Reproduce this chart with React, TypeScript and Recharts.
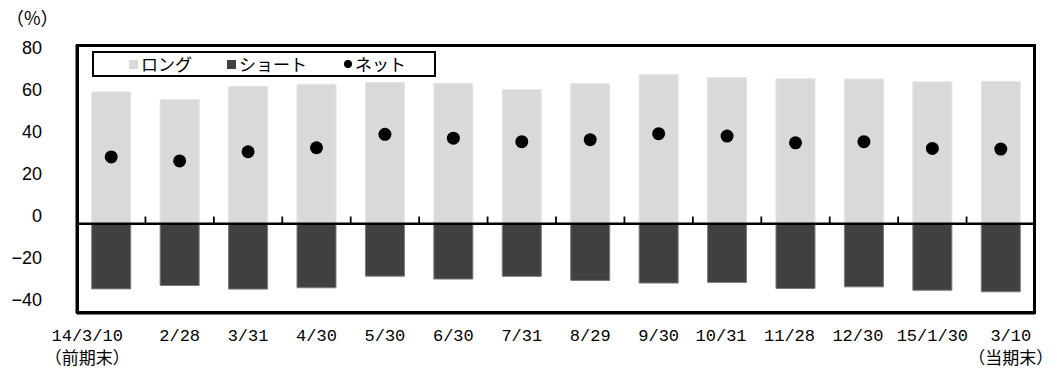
import React from 'react';
import {
  ComposedChart,
  Bar,
  Line,
  XAxis,
  YAxis,
  ReferenceLine,
} from 'recharts';

// Position-ratio series (%), one value per reporting date
const dates = ['14/3/10', '2/28', '3/31', '4/30', '5/30', '6/30', '7/31', '8/29', '9/30', '10/31', '11/28', '12/30', '15/1/30', '3/10'];
const periodNotes = ['（前期末）', '', '', '', '', '', '', '', '', '', '', '', '', '（当期末）'];
const longValues = [59.0, 55.5, 61.4, 62.4, 63.2, 62.8, 60.0, 62.7, 66.7, 65.4, 64.9, 64.8, 63.5, 63.7];
const shortValues = [-29.2, -27.7, -29.3, -28.7, -23.5, -24.8, -23.6, -25.4, -26.6, -26.3, -29.0, -28.3, -29.8, -30.5];
const netValues = [29.9, 28.1, 32.2, 34.0, 40.0, 38.3, 36.7, 37.6, 40.3, 39.2, 36.2, 36.7, 33.7, 33.4];

const yTicks = [80, 60, 40, 20, 0, -20, -40];
const seriesNames = ['ロング', 'ショート', 'ネット'];
const unitLabel = '（%）';

const data = dates.map((date, i) => ({
  date,
  long: longValues[i],
  short: shortValues[i],
  net: netValues[i],
}));

// chart layout
const W = 1057;
const H = 370;
const MARGIN = { top: 45, right: 22, left: 0, bottom: 0 };
const Y_AXIS_W = 77;
const X_AXIS_H = 57;
const PLOT = {
  left: MARGIN.left + Y_AXIS_W,
  top: MARGIN.top,
  width: W - MARGIN.left - MARGIN.right - Y_AXIS_W,
  height: H - MARGIN.top - MARGIN.bottom - X_AXIS_H,
};
const FRAME_W = 3;

const LONG_COLOR = '#d9d9d9';
const SHORT_COLOR = '#404040';
const NET_COLOR = '#000000';

const LATIN_FONT = "'Liberation Mono', 'Noto Sans CJK JP', monospace";
const CJK_FONT = "'Noto Sans CJK JP', sans-serif";

const fmtTick = (v: number) => (v < 0 ? '−' + Math.abs(v) : String(v));

// value labels are set on a slightly tighter pitch than the gridlines
const ValueTick = (props: any) => {
  const { x, y, payload } = props;
  const v = Number(payload.value);
  const dy = 3 - ((80 - v) / 120) * 16;
  return (
    <text
      x={x}
      y={y + dy}
      dy="0.36em"
      textAnchor="end"
      fill="#000"
      fontSize={18}
      fontFamily="'Liberation Sans', Arial, sans-serif"
    >
      {fmtTick(v)}
    </text>
  );
};

const DateTick = (props: any) => {
  const { x, index, payload } = props;
  const last = dates.length - 1;
  const label = String(payload.value);
  // first/last labels sit slightly outward; wider labels lean left
  const shift = index === 0 ? -24 : index === last ? 10 : label.length === 5 ? -6 : 0;
  const note = periodNotes[index];
  const base = PLOT.top + PLOT.height;
  return (
    <g>
      <text x={x + shift} y={base + 28} textAnchor="middle" fill="#000" fontSize={17} fontFamily={LATIN_FONT}>
        {label}
      </text>
      {note ? (
        <text x={x + shift} y={base + 51} textAnchor="middle" fill="#000" fontSize={17} fontFamily={CJK_FONT}>
          {note}
        </text>
      ) : null}
    </g>
  );
};

const legendItems = [
  { name: seriesNames[0], color: LONG_COLOR, shape: 'square', left: 35 },
  { name: seriesNames[1], color: SHORT_COLOR, shape: 'square', left: 133 },
  { name: seriesNames[2], color: NET_COLOR, shape: 'circle', left: 250 },
];

export default function App() {
  return (
    <div
      style={{
        position: 'absolute',
        left: 0,
        top: 0,
        width: W,
        height: H,
        background: '#fff',
      }}
    >
      <div
        style={{
          position: 'absolute',
          left: 6,
          top: 6,
          fontSize: 18,
          fontFamily: CJK_FONT,
          color: '#000',
          lineHeight: '22px',
        }}
      >
        {unitLabel}
      </div>

      <ComposedChart
        width={W}
        height={H}
        data={data}
        stackOffset="sign"
        barCategoryGap="21.5%"
        margin={MARGIN}
      >
        <XAxis
          dataKey="date"
          axisLine={{ stroke: '#000', strokeWidth: FRAME_W }}
          tickLine={false}
          height={X_AXIS_H}
          interval={0}
          tick={<DateTick />}
        />
        {/* labelled value axis */}
        <YAxis
          yAxisId="v"
          type="number"
          domain={[-40, 80]}
          allowDataOverflow
          ticks={yTicks}
          interval={0}
          width={Y_AXIS_W}
          axisLine={{ stroke: '#000', strokeWidth: FRAME_W }}
          tickLine={false}
          tickMargin={29}
          tick={<ValueTick />}
        />
        {/* inward tick marks along the left side of the frame */}
        <YAxis
          yAxisId="m"
          type="number"
          domain={[-40, 80]}
          allowDataOverflow
          ticks={yTicks}
          interval={0}
          mirror
          width={1}
          axisLine={false}
          tickLine={{ stroke: '#000', strokeWidth: 2 }}
          tickSize={6}
          tick={false}
        />

        <Bar
          dataKey="long"
          name={seriesNames[0]}
          stackId="pos"
          yAxisId="v"
          fill={LONG_COLOR}
          stroke="#e4e4e4"
          strokeWidth={1}
          isAnimationActive={false}
        />
        <Bar
          dataKey="short"
          name={seriesNames[1]}
          stackId="pos"
          yAxisId="v"
          fill={SHORT_COLOR}
          stroke="#7a7a7a"
          strokeWidth={1}
          isAnimationActive={false}
        />

        {/* zero line */}
        <ReferenceLine yAxisId="v" y={0} ifOverflow="visible" stroke="#000" strokeWidth={2.5} />
        {/* category separators standing on the zero line */}
        {dates.slice(1).map((d) => (
          <ReferenceLine
            key={'sep' + d}
            yAxisId="v"
            position="start"
            ifOverflow="visible"
            segment={[
              { x: d, y: 0 },
              { x: d, y: 3.2 },
            ]}
            stroke="#000"
            strokeWidth={1.8}
          />
        ))}

        <Line
          dataKey="net"
          name={seriesNames[2]}
          yAxisId="v"
          stroke="none"
          strokeWidth={0}
          dot={{ r: 6.5, fill: NET_COLOR, stroke: 'none' }}
          activeDot={false}
          isAnimationActive={false}
        />
      </ComposedChart>

      {/* plot-area frame */}
      <div
        style={{
          position: 'absolute',
          left: PLOT.left - 1,
          top: PLOT.top - 1,
          width: PLOT.width + 2,
          height: PLOT.height + 2,
          boxSizing: 'border-box',
          border: `${FRAME_W}px solid #000`,
          pointerEvents: 'none',
        }}
      />

      {/* legend */}
      <div
        style={{
          position: 'absolute',
          left: 92,
          top: 51,
          width: 340,
          height: 22,
          border: '2px solid #000',
          background: '#fff',
          fontFamily: CJK_FONT,
          fontSize: 17,
          color: '#000',
        }}
      >
        {legendItems.map((it) => (
          <div
            key={it.name}
            style={{
              position: 'absolute',
              left: it.left,
              top: 0,
              height: 22,
              display: 'flex',
              alignItems: 'center',
              whiteSpace: 'nowrap',
            }}
          >
            <span
              style={{
                display: 'inline-block',
                width: it.shape === 'circle' ? 8 : 9,
                height: it.shape === 'circle' ? 8 : 9,
                borderRadius: it.shape === 'circle' ? '50%' : 0,
                background: it.color,
                marginRight: 3,
              }}
            />
            <span style={{ lineHeight: '22px' }}>{it.name}</span>
          </div>
        ))}
      </div>
    </div>
  );
}
